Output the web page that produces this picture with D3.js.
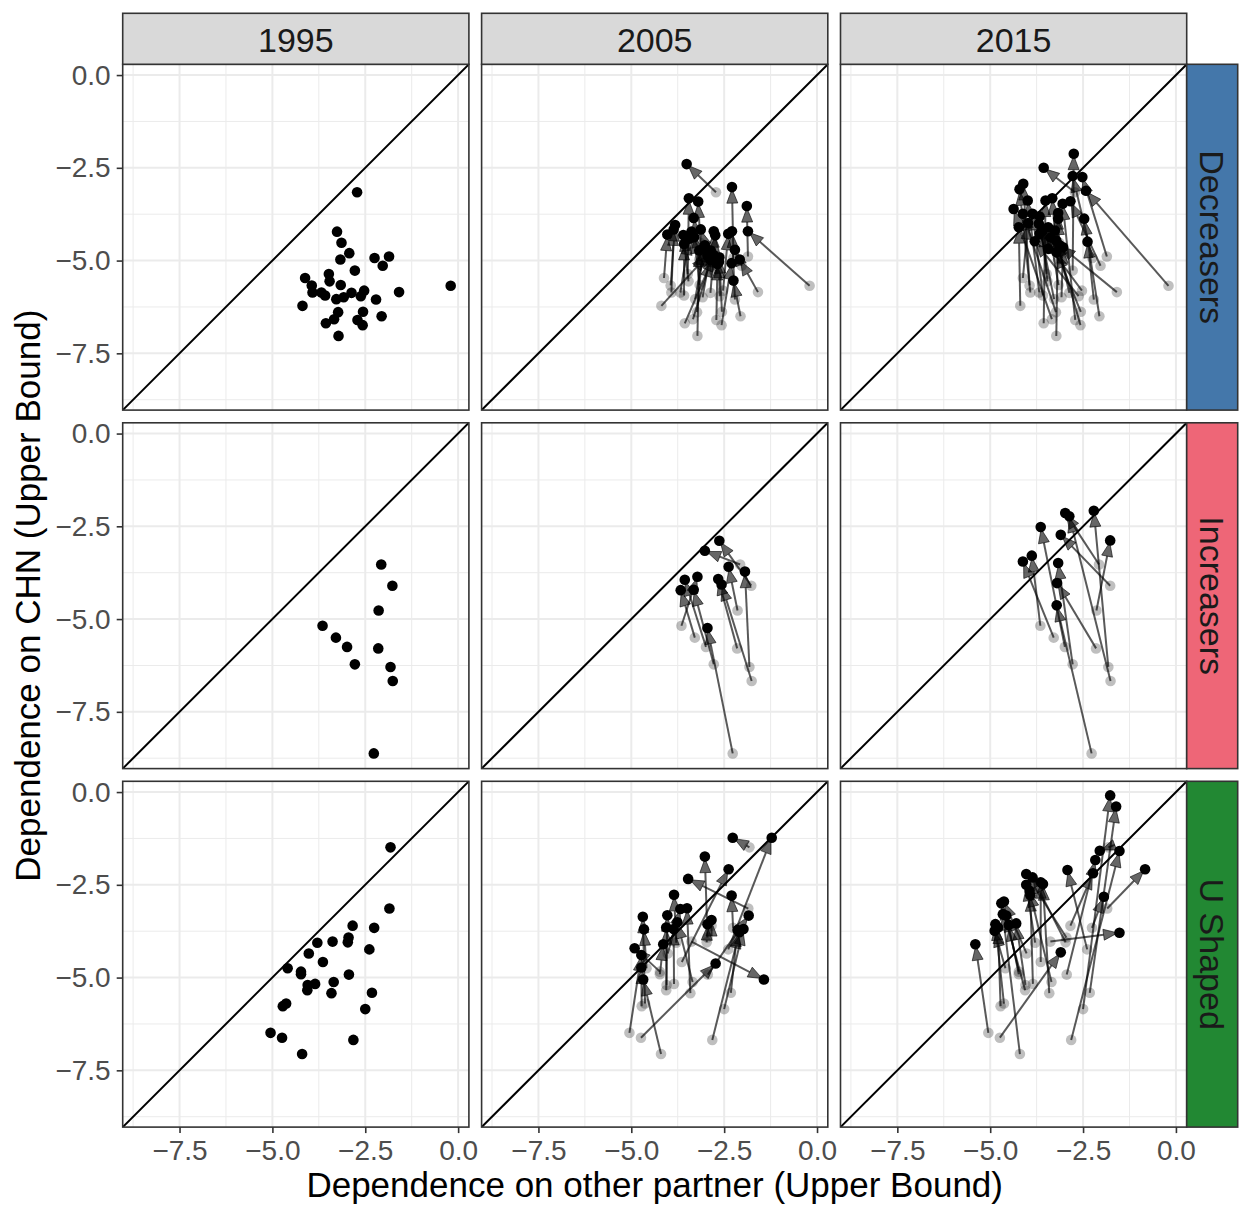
<!DOCTYPE html>
<html><head><meta charset="utf-8">
<script src="https://cdn.jsdelivr.net/npm/d3@7"></script>
<style>body{margin:0;background:#fff} text{font-family:"Liberation Sans",Arial,Helvetica,sans-serif}</style>
</head><body><svg id="c" width="1239" height="1207"></svg>
<script>
const years = ["1995","2005","2015"];
const groups = ["Decreasers","Increasers","U Shaped"];
const groupColors = ["#4477AA","#EE6677","#228833"];
const majorTicks = [-7.5,-5,-2.5,0];
const minorTicks = [-8.75,-6.25,-3.75,-1.25];
const tickLabels = ["−7.5","−5.0","−2.5","0.0"];

// Decreasers
const decX1995 = [-2.72,-3.26,-3.14,-2.93,-3.17,-2.25,-1.86,-2.03,-2.78,-4.12,-3.48,-3.46,-3.94,-3.16,-3.92,-3.68,-3.58,-3.28,-3.08,-2.87,-2.53,-2.62,-2.21,-1.59,-0.20,-4.19,-3.23,-2.56,-3.34,-3.56,-2.71,-2.57,-2.06,-3.22];
const decY1995 = [-3.16,-4.22,-4.52,-4.80,-4.97,-4.93,-4.89,-5.14,-5.27,-5.47,-5.36,-5.56,-5.67,-5.66,-5.86,-5.86,-5.94,-6.04,-5.99,-5.87,-5.81,-5.96,-6.05,-5.85,-5.68,-6.22,-6.39,-6.38,-6.58,-6.69,-6.60,-6.74,-6.50,-7.03];
const decX2005 = [-3.51,-3.32,-3.20,-3.13,-3.38,-2.29,-1.89,-2.21,-2.78,-4.03,-3.45,-3.60,-3.82,-3.31,-3.86,-3.44,-3.58,-3.02,-2.86,-2.74,-2.39,-2.64,-2.29,-2.08,-1.86,-2.95,-3.08,-2.63,-2.86,-2.77,-2.68,-2.30,-2.25,-3.17];
const decY2005 = [-2.40,-3.85,-3.41,-4.16,-4.22,-3.02,-3.53,-4.71,-4.21,-4.30,-3.32,-4.31,-4.04,-4.37,-4.16,-4.41,-4.55,-4.59,-4.73,-4.32,-4.28,-5.03,-4.21,-4.97,-4.21,-4.86,-4.68,-4.91,-5.00,-4.86,-5.09,-5.07,-5.54,-4.73];
const decX2015 = [-3.56,-3.33,-3.17,-3.44,-3.44,-2.78,-2.52,-2.84,-2.75,-3.98,-3.67,-3.58,-4.11,-3.38,-4.21,-3.99,-3.86,-3.69,-3.04,-3.26,-3.67,-3.80,-2.38,-3.13,-2.42,-4.23,-4.12,-3.22,-4.37,-3.51,-3.05,-3.22,-2.47,-3.17];
const decY2015 = [-2.50,-3.32,-3.87,-4.68,-4.10,-2.72,-2.75,-3.40,-2.12,-3.99,-3.81,-4.19,-2.93,-4.37,-3.08,-3.38,-3.74,-4.01,-4.64,-4.19,-4.28,-4.48,-4.49,-4.59,-3.12,-4.10,-3.74,-4.77,-3.61,-3.38,-3.47,-4.46,-3.87,-3.72];

// Increasers
const incX1995 = [-2.07,-1.77,-2.14,-3.65,-3.29,-2.99,-2.15,-2.78,-1.82,-1.76,-2.27];
const incY1995 = [-3.53,-4.10,-4.77,-5.18,-5.50,-5.75,-5.79,-6.22,-6.29,-6.67,-8.62];
const incX2005 = [-3.02,-2.63,-2.38,-3.22,-3.67,-3.56,-2.66,-3.32,-1.94,-2.57,-2.95];
const incY2005 = [-3.16,-2.89,-3.59,-3.86,-4.22,-3.94,-3.92,-4.21,-3.72,-4.07,-5.24];
const incX2015 = [-2.98,-3.10,-1.77,-3.88,-4.12,-3.64,-3.20,-3.17,-2.21,-2.87,-3.21];
const incY2015 = [-2.14,-2.73,-2.88,-3.29,-3.45,-2.52,-4.03,-3.49,-2.08,-2.23,-4.63];

// U Shaped
const uX1995 = [-1.82,-1.85,-2.84,-2.26,-2.95,-2.97,-3.38,-3.79,-2.39,-4.02,-3.64,-4.59,-4.23,-4.23,-2.94,-4.05,-3.85,-4.06,-3.35,-3.41,-2.32,-4.63,-4.72,-2.50,-5.05,-4.74,-2.82,-4.20];
const uY1995 = [-1.49,-3.14,-3.60,-3.66,-3.92,-4.05,-4.03,-4.06,-4.24,-4.35,-4.58,-4.75,-4.84,-4.91,-4.92,-5.20,-5.17,-5.34,-5.12,-5.42,-5.41,-5.70,-5.77,-5.85,-6.49,-6.62,-6.68,-7.06];
const uX2005 = [-2.27,-3.47,-2.84,-2.30,-3.02,-2.95,-1.43,-3.85,-1.22,-3.68,-2.38,-4.66,-4.91,-4.14,-1.84,-4.06,-3.86,-4.03,-3.76,-3.50,-2.14,-4.69,-4.73,-1.98,-4.73,-2.73,-2.09,-4.68];
const uY2005 = [-1.23,-2.34,-3.45,-2.79,-1.74,-3.56,-5.05,-2.77,-1.23,-3.15,-2.08,-3.70,-4.21,-4.10,-3.33,-3.65,-3.69,-3.32,-3.51,-3.13,-3.72,-3.36,-4.73,-3.69,-4.39,-4.62,-3.78,-5.05];
const uX2015 = [-2.05,-0.83,-2.23,-1.94,-4.03,-3.86,-1.52,-4.03,-2.92,-4.63,-3.64,-4.88,-4.57,-4.50,-2.17,-4.30,-3.92,-4.70,-3.94,-3.58,-1.61,-4.86,-4.79,-1.77,-5.40,-3.10,-1.52,-4.66];
const uY2015 = [-1.58,-2.08,-2.19,-2.82,-2.21,-2.30,-3.79,-2.50,-2.10,-2.95,-2.43,-3.74,-3.33,-3.58,-1.83,-3.54,-2.78,-3.00,-2.66,-2.48,-0.39,-3.56,-3.65,-0.09,-4.10,-4.32,-1.59,-3.29];

const groupData = [
  [[decX1995,decY1995],[decX2005,decY2005],[decX2015,decY2015]],
  [[incX1995,incY1995],[incX2005,incY2005],[incX2015,incY2015]],
  [[uX1995,uY1995],[uX2005,uY2005],[uX2015,uY2015]]
];

const svg = d3.select("#c");
const L = 122.7, T = 64.3, W = 346.2, H = 345.8, GAP = 12.7;
const dom = [-9.03, 0.29];
const x = d3.scaleLinear().domain(dom).range([0, W]);
const y = d3.scaleLinear().domain(dom).range([H, 0]);
const FONT = '"Liberation Sans",Arial,Helvetica,sans-serif';

const defs = svg.append("defs");
defs.append("clipPath").attr("id","pclip").append("rect").attr("width",W).attr("height",H);

groups.forEach((gname, r) => {
  years.forEach((yr, c) => {
    const g = svg.append("g").attr("transform", `translate(${L + c*(W+GAP)},${T + r*(H+GAP)})`);
    g.append("rect").attr("width", W).attr("height", H).attr("fill", "#fff");
    const grid = g.append("g");
    minorTicks.forEach(v => {
      grid.append("line").attr("x1", x(v)).attr("x2", x(v)).attr("y1", 0).attr("y2", H).attr("stroke", "#EBEBEB").attr("stroke-width", 1);
      grid.append("line").attr("y1", y(v)).attr("y2", y(v)).attr("x1", 0).attr("x2", W).attr("stroke", "#EBEBEB").attr("stroke-width", 1);
    });
    majorTicks.forEach(v => {
      grid.append("line").attr("x1", x(v)).attr("x2", x(v)).attr("y1", 0).attr("y2", H).attr("stroke", "#EBEBEB").attr("stroke-width", 2);
      grid.append("line").attr("y1", y(v)).attr("y2", y(v)).attr("x1", 0).attr("x2", W).attr("stroke", "#EBEBEB").attr("stroke-width", 2);
    });
    const inner = g.append("g").attr("clip-path", "url(#pclip)");
    inner.append("line").attr("x1", x(dom[0])).attr("y1", y(dom[0])).attr("x2", x(dom[1])).attr("y2", y(dom[1]))
      .attr("stroke", "#000").attr("stroke-width", 2);

    const base = groupData[r][0];
    const cur = groupData[r][c];
    const idx = d3.range(base[0].length);
    if (c > 0) {
      inner.selectAll(".gp").data(idx).join("circle").attr("class","gp")
        .attr("cx", i => x(base[0][i])).attr("cy", i => y(base[1][i])).attr("r", 5.3)
        .attr("fill", "#000").attr("fill-opacity", 0.25);
      idx.forEach(i => {
        const x0 = x(base[0][i]), y0 = y(base[1][i]);
        const x1 = x(cur[0][i]), y1 = y(cur[1][i]);
        const dx = x1 - x0, dy = y1 - y0, len = Math.hypot(dx, dy);
        if (len < 1) return;
        const ux = dx/len, uy = dy/len, px = -uy, py = ux;
        const tx = x1 - ux*2, ty = y1 - uy*2;
        const alen = 14, aw = 5.5;
        const bx = tx - ux*alen, by = ty - uy*alen;
        inner.append("line").attr("x1", x0).attr("y1", y0).attr("x2", bx).attr("y2", by)
          .attr("stroke", "#000").attr("stroke-opacity", 0.65).attr("stroke-width", 2);
        inner.append("path")
          .attr("d", `M${tx},${ty}L${bx+px*aw},${by+py*aw}L${bx-px*aw},${by-py*aw}Z`)
          .attr("fill", "#000").attr("fill-opacity", 0.6)
          .attr("stroke", "#000").attr("stroke-opacity", 0.6).attr("stroke-width", 1);
      });
    }
    inner.selectAll(".bp").data(idx).join("circle").attr("class","bp")
      .attr("cx", i => x(cur[0][i])).attr("cy", i => y(cur[1][i])).attr("r", 5.3)
      .attr("fill", "#000");

    g.append("rect").attr("width", W).attr("height", H).attr("fill", "none").attr("stroke", "#333").attr("stroke-width", 1.6);

    if (c === 0) {
      const ax = g.append("g").call(d3.axisLeft(y).tickValues(majorTicks).tickFormat((d,i) => tickLabels[i]).tickSize(6).tickPadding(6));
      ax.select(".domain").remove();
      ax.selectAll(".tick line").attr("stroke", "#333").attr("stroke-width", 1.6);
      ax.selectAll(".tick text").attr("fill", "#4D4D4D").style("font-size", "28px").style("font-family", FONT);
    }
    if (r === groups.length - 1) {
      const ax = g.append("g").attr("transform", `translate(0,${H})`)
        .call(d3.axisBottom(x).tickValues(majorTicks).tickFormat((d,i) => tickLabels[i]).tickSize(6).tickPadding(7));
      ax.select(".domain").remove();
      ax.selectAll(".tick line").attr("stroke", "#333").attr("stroke-width", 1.6);
      ax.selectAll(".tick text").attr("fill", "#4D4D4D").style("font-size", "28px").style("font-family", FONT);
    }
  });
});

// top strips
years.forEach((yr, c) => {
  const sx = L + c*(W+GAP);
  svg.append("rect").attr("x", sx).attr("y", 13.3).attr("width", W).attr("height", 51)
    .attr("fill", "#D9D9D9").attr("stroke", "#333").attr("stroke-width", 1.6);
  svg.append("text").attr("x", sx + W/2).attr("y", 39.5).attr("text-anchor", "middle")
    .attr("dominant-baseline", "central").attr("fill", "#1A1A1A").style("font-size", "34px").text(yr);
});
// right strips
groups.forEach((gname, r) => {
  const sy = T + r*(H+GAP);
  const sx = L + 3*W + 2*GAP;
  svg.append("rect").attr("x", sx).attr("y", sy).attr("width", 51).attr("height", H)
    .attr("fill", groupColors[r]).attr("stroke", "#333").attr("stroke-width", 1.6);
  svg.append("text").attr("transform", `translate(${sx + 25.5},${sy + H/2}) rotate(90)`)
    .attr("text-anchor", "middle").attr("dominant-baseline", "central")
    .attr("fill", "#1A1A1A").style("font-size", "34px").text(gname);
});

// axis titles
svg.append("text").attr("x", L + (3*W + 2*GAP)/2).attr("y", 1197).attr("text-anchor", "middle")
  .attr("fill", "#000").style("font-size", "35px").text("Dependence on other partner (Upper Bound)");
svg.append("text").attr("transform", `translate(40,${T + (3*H + 2*GAP)/2}) rotate(-90)`).attr("text-anchor", "middle")
  .attr("fill", "#000").style("font-size", "35px").text("Dependence on CHN (Upper Bound)");
</script></body></html>
